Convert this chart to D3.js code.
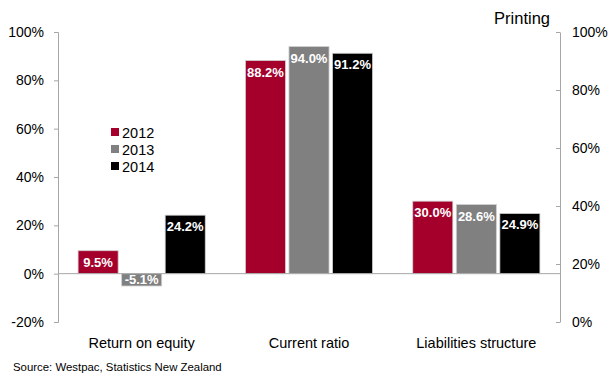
<!DOCTYPE html>
<html>
<head>
<meta charset="utf-8">
<script src="https://cdn.jsdelivr.net/npm/d3@7"></script>
<style>
  body { margin: 0; background: #fff; }
  svg { display: block; font-family: "Liberation Sans", Arial, sans-serif; }
</style>
</head>
<body>
<svg id="chart" width="613" height="373"></svg>
<script>
// Financial ratios for the printing industry, 2012–2014
const categories = ["Return on equity", "Current ratio", "Liabilities structure"];
const years = ["2012", "2013", "2014"];
const values2012 = [9.5, 88.2, 30.0];
const values2013 = [-5.1, 94.0, 28.6];
const values2014 = [24.2, 91.2, 24.9];
const leftTicks = [-20, 0, 20, 40, 60, 80, 100];
const rightTicks = [0, 20, 40, 60, 80, 100];
const colors = ["#a5002b", "#808080", "#000000"];

const series = [values2012, values2013, values2014];

const svg = d3.select("#chart");
const plotLeft = 58, plotRight = 560, plotTop = 32, plotBottom = 322;

const y = d3.scaleLinear().domain([-20, 100]).range([plotBottom, plotTop]);
const yRight = d3.scaleLinear().domain([0, 100]).range([plotBottom, plotTop]);

const x0 = d3.scaleBand().domain(categories).range([plotLeft, plotRight]).paddingInner(0.24).paddingOuter(0.12);
const x1 = d3.scaleBand().domain(years).range([0, x0.bandwidth()]).paddingInner(0.08).paddingOuter(0);

const axisColor = "#a6a6a6";

// left axis
const gL = svg.append("g").attr("transform", `translate(${plotLeft},0)`)
  .call(d3.axisLeft(y).tickValues(leftTicks).tickSize(4).tickPadding(10).tickFormat(d => d + "%"));
gL.select(".domain").attr("stroke", axisColor);
gL.selectAll(".tick line").attr("stroke", axisColor);
gL.selectAll(".tick text").attr("fill", "#000").style("font-size", "14px").style("font-family", "Liberation Sans, Arial, sans-serif");

// right axis (ticks point inward)
const gR = svg.append("g").attr("transform", `translate(${plotRight},0)`)
  .call(d3.axisRight(yRight).tickValues(rightTicks).tickSize(0).tickPadding(12).tickFormat(d => d + "%"));
gR.select(".domain").attr("stroke", axisColor);
gR.selectAll(".tick").append("line").attr("x1", -4).attr("x2", 0).attr("stroke", axisColor);
gR.selectAll(".tick text").attr("fill", "#000").style("font-size", "14px").style("font-family", "Liberation Sans, Arial, sans-serif");

// bars
const groups = svg.append("g").selectAll("g").data(categories).join("g")
  .attr("transform", d => `translate(${x0(d)},0)`);

groups.each(function(cat, ci) {
  const g = d3.select(this);
  years.forEach((yr, si) => {
    const v = series[si][ci];
    const bx = x1(yr), bw = x1.bandwidth();
    const y0 = y(Math.max(0, v)), h = Math.abs(y(v) - y(0));
    g.append("rect").attr("x", bx).attr("y", y0).attr("width", bw).attr("height", h)
      .attr("fill", colors[si]).attr("stroke", "#d0d0d0").attr("stroke-width", 0.8);
    const ty = v >= 0 ? y(v) + 16 : y(v) - 1.5;
    g.append("text").attr("x", bx + bw / 2).attr("y", ty).attr("text-anchor", "middle")
      .attr("fill", "#fff").style("font-size", "13px").style("font-weight", "bold")
      .text(v.toFixed(1) + "%");
  });
});

// zero line
svg.append("line").attr("x1", plotLeft).attr("x2", plotRight).attr("y1", y(0)).attr("y2", y(0))
  .attr("stroke", axisColor);

// category labels
svg.append("g").selectAll("text").data(categories).join("text")
  .attr("x", d => x0(d) + x0.bandwidth() / 2).attr("y", 348)
  .attr("text-anchor", "middle").style("font-size", "14.5px").attr("fill", "#000")
  .text(d => d);

// legend
const leg = svg.append("g").attr("transform", "translate(111,128)");
years.forEach((yr, i) => {
  leg.append("rect").attr("x", 0).attr("y", i * 17).attr("width", 8).attr("height", 8).attr("fill", colors[i]);
  leg.append("text").attr("x", 11).attr("y", i * 17 + 9.5).style("font-size", "14.5px").attr("fill", "#000").text(yr);
});

// title and source
svg.append("text").attr("x", 550).attr("y", 24).attr("text-anchor", "end")
  .style("font-size", "16.5px").attr("fill", "#000").text("Printing");
svg.append("text").attr("x", 13).attr("y", 371).style("font-size", "11.4px").attr("fill", "#000")
  .text("Source: Westpac, Statistics New Zealand");
</script>
</body>
</html>
